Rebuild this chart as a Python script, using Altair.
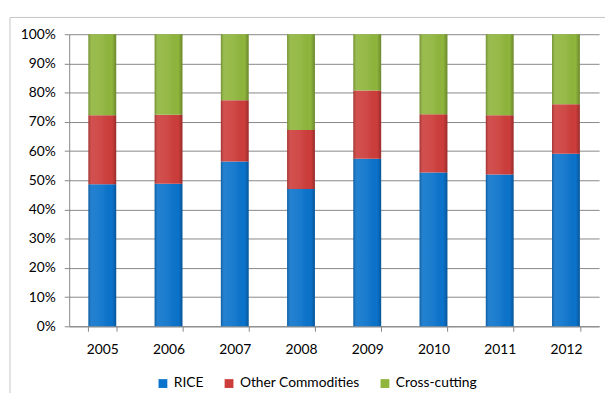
import altair as alt
import pandas as pd

years = ["2005", "2006", "2007", "2008", "2009", "2010", "2011", "2012"]
series = ["RICE", "Other Commodities", "Cross-cutting"]
rice = [48.6, 48.8, 56.4, 47.0, 57.4, 52.7, 52.0, 59.1]
other = [23.7, 23.6, 21.0, 20.2, 23.3, 19.9, 20.3, 16.9]
cross = [27.7, 27.6, 22.6, 32.8, 19.3, 27.4, 27.7, 24.0]
colors = ["#0b73cb", "#cc3d3b", "#8fb53c"]
y_ticks = [0.0, 0.1, 0.2, 0.3, 0.4, 0.5, 0.6, 0.7, 0.8, 0.9, 1.0]

rows = []
for i, y in enumerate(years):
    for k, (name, vals) in enumerate(zip(series, [rice, other, cross])):
        rows.append({"year": y, "series": name, "order": k, "value": vals[i]})
df = pd.DataFrame(rows)

FONT = "Lato"
GRID = "#878787"

x_axis = alt.Axis(labelAngle=0, tickBand="extent", tickSize=5,
                  labelPadding=12, domainColor=GRID, tickColor=GRID,
                  labelFont=FONT, labelFontSize=14, labelColor="#000000")
y_axis = alt.Axis(format=".0%", values=y_ticks, labelOverlap=False,
                  tickSize=5, labelPadding=9, gridColor=GRID,
                  domainColor=GRID, tickColor=GRID,
                  labelFont=FONT, labelFontSize=14, labelColor="#000000")

base = alt.Chart(df).mark_bar().encode(
    x=alt.X("year:N", title=None, sort=years,
            scale=alt.Scale(paddingInner=0.58, paddingOuter=0.29), axis=x_axis),
    y=alt.Y("value:Q", stack="normalize", title=None, axis=y_axis),
    color=alt.Color("series:N", sort=series,
                    scale=alt.Scale(domain=series, range=colors),
                    legend=alt.Legend(title=None, orient="none", direction="horizontal",
                                      legendX=88, legendY=347, symbolType="square",
                                      symbolSize=80, symbolStrokeWidth=0,
                                      labelFont=FONT, labelFontSize=14,
                                      labelColor="#000000", columnPadding=18,
                                      labelOffset=4)),
    order=alt.Order("order:Q"),
)

shade = alt.LinearGradient(
    gradient="linear", x1=0, x2=1, y1=0, y2=0,
    stops=[
        alt.GradientStop(color="rgba(0,0,0,0.22)", offset=0),
        alt.GradientStop(color="rgba(255,255,255,0.10)", offset=0.12),
        alt.GradientStop(color="rgba(255,255,255,0.06)", offset=0.5),
        alt.GradientStop(color="rgba(0,0,0,0.0)", offset=0.85),
        alt.GradientStop(color="rgba(0,0,0,0.25)", offset=1),
    ],
)

overlay = alt.Chart(df).mark_bar(fill=shade, strokeWidth=0).encode(
    x=alt.X("year:N", title=None, sort=years, axis=x_axis),
    y=alt.Y("value:Q", stack="normalize", title=None, axis=y_axis),
    detail="series:N",
    order=alt.Order("order:Q"),
)

frame_data = alt.Data(values=[{"a": 1}])
top_rule = alt.Chart(frame_data).mark_rule(color="#c4c4c4", strokeWidth=1).encode(
    x=alt.value(-60), x2=alt.value(560), y=alt.value(-17))
left_rule = alt.Chart(frame_data).mark_rule(color="#c4c4c4", strokeWidth=1).encode(
    x=alt.value(-60), y=alt.value(-17), y2=alt.value(380))

chart = alt.layer(base, overlay, top_rule, left_rule).properties(
    width=537, height=296,
    autosize=alt.AutoSizeParams(type="none"),
    padding={"left": 62, "top": 24, "right": 6, "bottom": 65},
).configure_view(stroke=None)

chart.save("out.html", embed_options={"renderer": "svg", "actions": False})
